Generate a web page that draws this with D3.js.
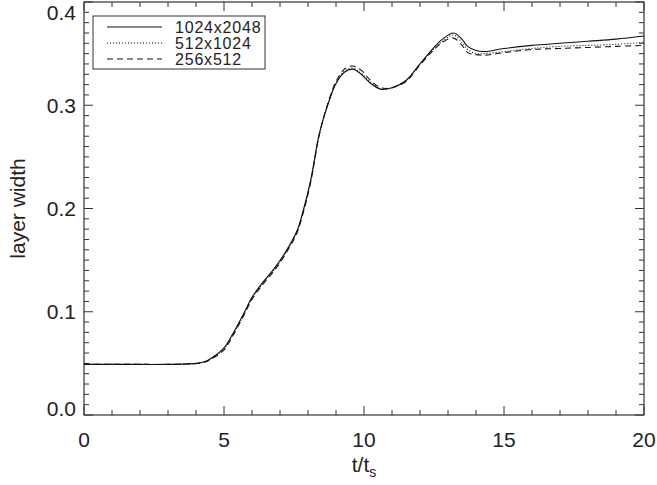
<!DOCTYPE html>
<html>
<head>
<meta charset="utf-8">
<script src="https://cdn.jsdelivr.net/npm/d3@7"></script>
<style>
  html, body { margin: 0; padding: 0; background: #fff; }
  svg { display: block; }
  text { font-family: "Liberation Sans", Arial, sans-serif; fill: #222; }
</style>
</head>
<body>
<svg id="chart" width="657" height="485"></svg>
<script>
// ---- data ----
const tValues = [0, 1, 2, 3, 3.5, 4, 4.3, 4.6, 5.0, 5.3, 5.7, 6.0, 6.4, 6.8, 7.2, 7.6, 7.85, 8.1, 8.4, 8.7, 9.0, 9.3, 9.6, 9.9, 10.2, 10.6, 11.0, 11.5, 12.0, 12.4, 12.8, 13.2, 13.5, 13.7, 14.0, 14.3, 15.0, 16.0, 17.0, 18.0, 19.0, 20.0];
const res1024 = [0.049, 0.049, 0.049, 0.049, 0.0493, 0.050, 0.0515, 0.056, 0.065, 0.078, 0.098, 0.114, 0.129, 0.142, 0.158, 0.178, 0.200, 0.228, 0.272, 0.300, 0.321, 0.332, 0.335, 0.330, 0.322, 0.3155, 0.317, 0.324, 0.340, 0.353, 0.364, 0.370, 0.364, 0.357, 0.353, 0.352, 0.355, 0.358, 0.360, 0.362, 0.364, 0.367];
const res512  = [0.049, 0.049, 0.049, 0.049, 0.0493, 0.050, 0.0513, 0.0555, 0.064, 0.077, 0.097, 0.113, 0.128, 0.141, 0.157, 0.177, 0.199, 0.227, 0.271, 0.300, 0.321, 0.333, 0.336, 0.331, 0.323, 0.316, 0.317, 0.324, 0.340, 0.352, 0.362, 0.368, 0.361, 0.354, 0.350, 0.350, 0.352, 0.355, 0.357, 0.358, 0.359, 0.361];
const res256  = [0.049, 0.049, 0.049, 0.049, 0.0492, 0.0498, 0.051, 0.055, 0.063, 0.076, 0.096, 0.112, 0.127, 0.140, 0.156, 0.176, 0.198, 0.226, 0.271, 0.301, 0.323, 0.335, 0.338, 0.334, 0.325, 0.317, 0.317, 0.323, 0.339, 0.351, 0.361, 0.365, 0.358, 0.351, 0.349, 0.3485, 0.351, 0.354, 0.355, 0.356, 0.357, 0.358];
const seriesNames = ["1024x2048", "512x1024", "256x512"];
const xTickLabels = ["0", "5", "10", "15", "20"];
const yTickLabels = ["0.0", "0.1", "0.2", "0.3", "0.4"];

// ---- layout ----
const svg = d3.select("#chart");
const L = 84, R = 644, T = 2, B = 415;
const x = d3.scaleLinear().domain([0, 20]).range([L, R]);
const y = d3.scaleLinear().domain([0, 0.4]).range([B, T]);
const axisColor = "#333";

// frame
svg.append("rect").attr("x", L).attr("y", T).attr("width", R - L).attr("height", B - T)
  .attr("fill", "none").attr("stroke", axisColor).attr("stroke-width", 1.2);

// ticks on all four sides, pointing inward
const xMajor = xTickLabels.map(Number);
const xMinor = d3.range(0, 21, 1).filter(v => v % 5 !== 0);
const yMajor = yTickLabels.map(Number);
const yMinor = d3.range(0, 41, 1).map(v => v / 100).filter((v, i) => i % 10 !== 0);

function ticks(axis, vals, len) {
  const g = svg.append("g").attr("stroke", axisColor).attr("stroke-width", 1);
  vals.forEach(v => {
    if (axis === "x") {
      const px = x(v);
      g.append("line").attr("x1", px).attr("x2", px).attr("y1", B).attr("y2", B - len);
      g.append("line").attr("x1", px).attr("x2", px).attr("y1", T).attr("y2", T + len);
    } else {
      const py = y(v);
      g.append("line").attr("y1", py).attr("y2", py).attr("x1", L).attr("x2", L + len);
      g.append("line").attr("y1", py).attr("y2", py).attr("x1", R).attr("x2", R - len);
    }
  });
}
ticks("x", xMajor, 9);
ticks("x", xMinor, 5);
ticks("y", yMajor, 9);
ticks("y", yMinor, 5);

// tick labels
svg.append("g").selectAll("text").data(xTickLabels).join("text")
  .attr("x", d => x(+d)).attr("y", 447)
  .attr("text-anchor", "middle").attr("font-size", 21)
  .text(d => d);
svg.append("g").selectAll("text").data(yTickLabels).join("text")
  .attr("x", 76)
  .attr("y", d => Math.min(Math.max(y(+d), T + 10), B - 7))
  .attr("dy", "0.36em")
  .attr("text-anchor", "end").attr("font-size", 21)
  .text(d => d);

// axis titles
const xt = svg.append("text").attr("x", 364).attr("y", 472)
  .attr("text-anchor", "middle").attr("font-size", 21);
xt.append("tspan").text("t/t");
xt.append("tspan").attr("font-size", 14).attr("dy", 5).text("s");

svg.append("text")
  .attr("transform", `translate(25, ${(T + B) / 2}) rotate(-90)`)
  .attr("text-anchor", "middle").attr("font-size", 21)
  .text("layer width");

// curves
const series = [res1024, res512, res256];
const dashes = [null, "1,2", "6,4"];
const line = d3.line()
  .x((d, i) => x(tValues[i]))
  .y(d => y(d))
  .curve(d3.curveCatmullRom.alpha(0.5));
series.forEach((s, k) => {
  svg.append("path").datum(s)
    .attr("d", line)
    .attr("fill", "none")
    .attr("stroke", "#111")
    .attr("stroke-width", 1.1)
    .attr("stroke-dasharray", dashes[k]);
});

// legend
const lg = svg.append("g");
lg.append("rect").attr("x", 93).attr("y", 16).attr("width", 172).attr("height", 53)
  .attr("fill", "#fff").attr("stroke", axisColor).attr("stroke-width", 1);
seriesNames.forEach((name, k) => {
  const ly = 27 + k * 16;
  lg.append("line").attr("x1", 107).attr("x2", 162).attr("y1", ly).attr("y2", ly)
    .attr("stroke", "#111").attr("stroke-width", 1.1)
    .attr("stroke-dasharray", dashes[k]);
  lg.append("text").attr("x", 175).attr("y", ly).attr("dy", "0.36em")
    .attr("font-size", 16).attr("letter-spacing", 0.8)
    .text(name);
});
</script>
</body>
</html>
